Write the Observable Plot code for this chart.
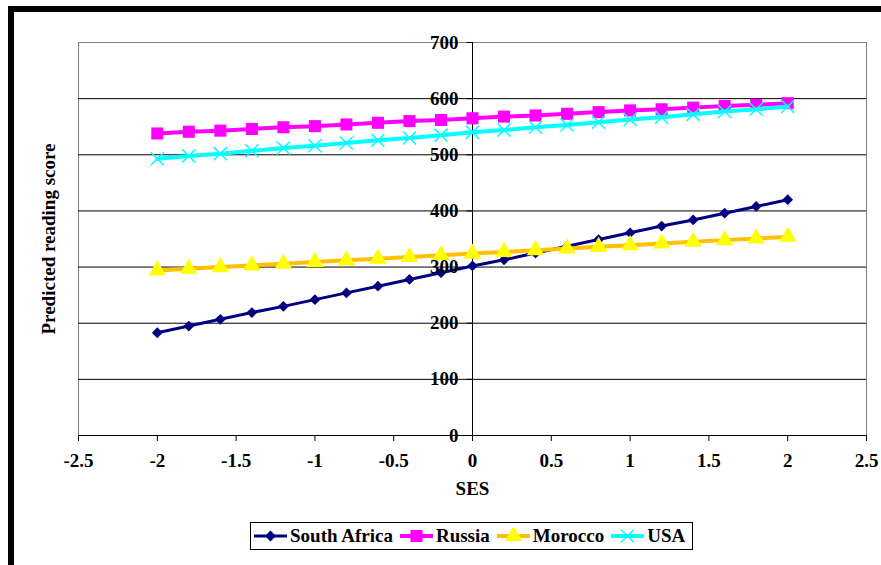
<!DOCTYPE html>
<html>
<head>
<meta charset="utf-8">
<script src="https://cdn.jsdelivr.net/npm/d3@7"></script>
<script src="https://cdn.jsdelivr.net/npm/@observablehq/plot@0.6"></script>
<style>
  html, body { margin: 0; padding: 0; background: #fff; }
  #wrap { position: relative; width: 881px; height: 565px; overflow: hidden; font-family: "Liberation Serif", "Times New Roman", serif; }
  #frame { position: absolute; left: 8px; top: 6px; width: 900px; height: 600px; border-top: 6px solid #000; border-left: 6px solid #000; box-sizing: border-box; pointer-events: none; }
  #chart { position: absolute; left: 0; top: 0; }
  #legend { position: absolute; left: 250px; top: 522px; width: 443px; height: 28px; box-sizing: border-box; border: 1px solid #000; background: #fff; display: flex; align-items: center; padding-left: 3px; font-weight: bold; font-size: 19px; white-space: nowrap; }
  .item { display: flex; align-items: center; margin-right: 7px; }
  .item svg { margin-right: 3px; }
</style>
</head>
<body>
<div id="wrap">
  <div id="chart"></div>
  <div id="frame"></div>
  <div id="legend"></div>
</div>
<script>
// SES values (x)
const ses = [-2, -1.8, -1.6, -1.4, -1.2, -1, -0.8, -0.6, -0.4, -0.2, 0, 0.2, 0.4, 0.6, 0.8, 1, 1.2, 1.4, 1.6, 1.8, 2];

// Predicted reading score per country
const southAfrica = [183, 195, 207, 219, 230, 242, 254, 266, 278, 290, 302, 313, 325, 337, 349, 361, 373, 384, 396, 408, 420];
const russia = [538, 541, 543, 546, 549, 551, 554, 557, 560, 562, 565, 568, 570, 573, 576, 579, 581, 584, 587, 589, 592];
const morocco = [294, 297, 300, 303, 306, 309, 312, 315, 318, 321, 324, 327, 330, 333, 336, 339, 342, 345, 348, 351, 354];
const usa = [493, 498, 502, 507, 512, 516, 521, 526, 530, 535, 540, 544, 549, 553, 558, 563, 567, 572, 577, 581, 586];

// Axis ticks
const xTicks = [-2.5, -2, -1.5, -1, -0.5, 0, 0.5, 1, 1.5, 2, 2.5];
const xTickLabels = ["-2.5", "-2", "-1.5", "-1", "-0.5", "0", "0.5", "1", "1.5", "2", "2.5"];
const yTicks = [0, 100, 200, 300, 400, 500, 600, 700];
const yTickLabels = ["0", "100", "200", "300", "400", "500", "600", "700"];

const seriesNames = ["South Africa", "Russia", "Morocco", "USA"];

// Line and marker styling per series
const styles = {
  "South Africa": {line: "#000080", strokeWidth: 3, symbol: "square", r: 4.3, rotate: 45, fill: "#000080", stroke: "none"},
  "Russia": {line: "#FF00FF", strokeWidth: 4, symbol: "square", r: 6.8, rotate: 0, fill: "#FF00FF", stroke: "none"},
  "Morocco": {line: "#FFC000", strokeWidth: 4, symbol: "triangle", r: 6.5, rotate: 0, fill: "#FFFF00", stroke: "none"},
  "USA": {line: "#00FFFF", strokeWidth: 4, symbol: "times", r: 6, rotate: 0, fill: "none", stroke: "#00FFFF"}
};

const valuesBySeries = {"South Africa": southAfrica, "Russia": russia, "Morocco": morocco, "USA": usa};

const seriesMarks = seriesNames.flatMap(name => {
  const s = styles[name];
  const rows = ses.map((x, i) => ({x, y: valuesBySeries[name][i]}));
  return [
    Plot.line(rows, {x: "x", y: "y", stroke: s.line, strokeWidth: s.strokeWidth}),
    Plot.dot(rows, {x: "x", y: "y", symbol: s.symbol, r: s.r, rotate: s.rotate, fill: s.fill, stroke: s.stroke, strokeWidth: 1.5})
  ];
});

// Short horizontal tick drawn to the left of the vertical axis
const leftTick = {draw(context) { context.moveTo(-6, 0); context.lineTo(0, 0); }};

const chart = Plot.plot({
  width: 881,
  height: 510,
  marginLeft: 78,
  marginRight: 15,
  marginTop: 42,
  marginBottom: 75,
  x: {type: "linear", domain: [-2.5, 2.5], axis: null},
  y: {type: "linear", domain: [0, 700], axis: null},
  style: {fontFamily: "'Liberation Serif', 'Times New Roman', serif", fontSize: "19px", fontWeight: "bold", color: "#000", background: "#fff"},
  marks: [
    Plot.frame({stroke: "#808080"}),
    Plot.ruleY(yTicks.filter(d => d > 0 && d < 700), {stroke: "#000", strokeWidth: 1}),
    Plot.dot(yTicks, {x: () => 0, y: d => d, symbol: leftTick, stroke: "#000", strokeWidth: 1, r: 4}),
    Plot.ruleX([0], {stroke: "#000", strokeWidth: 1}),
    Plot.ruleY([0], {stroke: "#000", strokeWidth: 1}),
    Plot.axisX({ticks: xTicks, tickSize: 6, tickPadding: 12, tickFormat: (d, i) => xTickLabels[i], label: null, fontSize: 19, fontWeight: "bold", stroke: "#000"}),
    ...seriesMarks,
    Plot.text(yTicks, {x: () => 0, y: d => d, text: (d, i) => yTickLabels[i], textAnchor: "end", dx: -14, fontSize: 19, fontWeight: "bold", fill: "#000"}),
    Plot.text(["SES"], {frameAnchor: "bottom", textAnchor: "middle", dy: 59, fontSize: 19, fontWeight: "bold", fill: "#000"}),
    Plot.text(["Predicted reading score"], {frameAnchor: "left", textAnchor: "middle", dx: -30, rotate: -90, fontSize: 19, fontWeight: "bold", fill: "#000"})
  ]
});
document.getElementById("chart").appendChild(chart);

// Legend: line swatch with marker, then series name
const legend = d3.select("#legend");
seriesNames.forEach(name => {
  const s = styles[name];
  const item = legend.append("div").attr("class", "item");
  const svg = item.append("svg").attr("width", 33).attr("height", 16);
  svg.append("line").attr("x1", 0).attr("x2", 33).attr("y1", 8).attr("y2", 8)
    .attr("stroke", s.line).attr("stroke-width", s.strokeWidth);
  const sym = {square: d3.symbolSquare, triangle: d3.symbolTriangle, times: d3.symbolTimes}[s.symbol];
  svg.append("path")
    .attr("d", d3.symbol(sym, Math.PI * s.r * s.r)())
    .attr("transform", `translate(16.5,8) rotate(${s.rotate})`)
    .attr("fill", s.fill).attr("stroke", s.stroke).attr("stroke-width", 1.5);
  item.append("span").text(name);
});
</script>
</body>
</html>
